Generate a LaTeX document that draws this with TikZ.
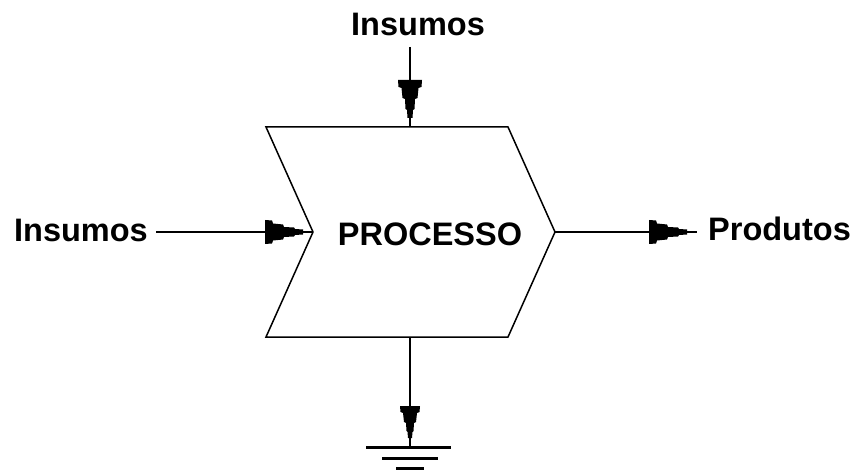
\documentclass[tikz,border=0pt]{standalone}
\usepackage{fontspec}
\setmainfont{Liberation Sans}
\usetikzlibrary{decorations.markings}
\tikzset{
  conn/.style={line width=1.5pt, black},
  shapeline/.style={line width=1.5pt, black, line join=miter},
  lab/.style={font=\fontsize{32.5}{36}\selectfont\bfseries, text=black},
  stephead/.style={postaction={decorate}, decoration={markings, mark=at position -#1 with {%
    \fill[black] (-38pt,12pt) -- (-31pt,11.5pt) -- (-30pt,8.5pt) -- (-20pt,7.5pt) -- (-19pt,5pt) -- (-9pt,4.5pt) -- (-8pt,3pt) -- (0pt,2.5pt)
      -- (0pt,-2.5pt) -- (-8pt,-3pt) -- (-9pt,-4.5pt) -- (-19pt,-5pt) -- (-20pt,-7.5pt) -- (-30pt,-8.5pt) -- (-31pt,-11.5pt) -- (-38pt,-12pt) -- cycle;}}},
  smallhead/.style={postaction={decorate}, decoration={markings, mark=at position -#1 with {%
    \fill[black] (-32pt,10pt) -- (-26pt,9.5pt) -- (-25pt,7pt) -- (-16pt,6pt) -- (-15pt,4pt) -- (-7pt,3.5pt) -- (-6pt,2.5pt) -- (0pt,2pt)
      -- (0pt,-2pt) -- (-6pt,-2.5pt) -- (-7pt,-3.5pt) -- (-15pt,-4pt) -- (-16pt,-6pt) -- (-25pt,-7pt) -- (-26pt,-9.5pt) -- (-32pt,-10pt) -- cycle;}}},
  ground/.style={line width=3pt, black}
}
\begin{document}
\begin{tikzpicture}[x=1pt,y=-1pt]
\useasboundingbox (0,0) rectangle (856,470);
% chevron shape
\coordinate (tl) at (266,127);
\coordinate (tr) at (508,127);
\coordinate (rp) at (555,232);
\coordinate (br) at (508,337);
\coordinate (bl) at (266,337);
\coordinate (lp) at (313,232);
\coordinate (tin) at (410,127);
\coordinate (bout) at (410,337);
\draw[shapeline] (tl) -- (tr) -- (rp) -- (br) -- (bl) -- (lp) -- cycle;
\node[lab, inner sep=0pt] (proc) at (430,234) {PROCESSO};
% labels
\node[lab, inner sep=0pt] (instop) at (418,24) {Insumos};
\node[lab, anchor=east, inner xsep=8pt, inner ysep=0pt] (insleft) at (156,230) {Insumos};
\node[lab, anchor=west, inner xsep=11pt, inner ysep=0pt] (prod) at (697,229) {Produtos};
\coordinate (tstart) at (410,47);
\coordinate (gnd) at (410,447);
% connectors
\draw[conn, stephead=9pt] (tstart) -- (tin);
\draw[conn, stephead=10pt] (insleft.east |- lp) -- (lp);
\draw[conn, stephead=10pt] (rp) -- (prod.west |- rp);
\draw[conn, smallhead=9pt] (bout) -- (gnd);
% ground symbol
\draw[ground] (366,447) -- (451,447);
\draw[ground] (382,458) -- (438,458);
\draw[line width=5pt, black] (396,469) -- (424,469);
\end{tikzpicture}
\end{document}
